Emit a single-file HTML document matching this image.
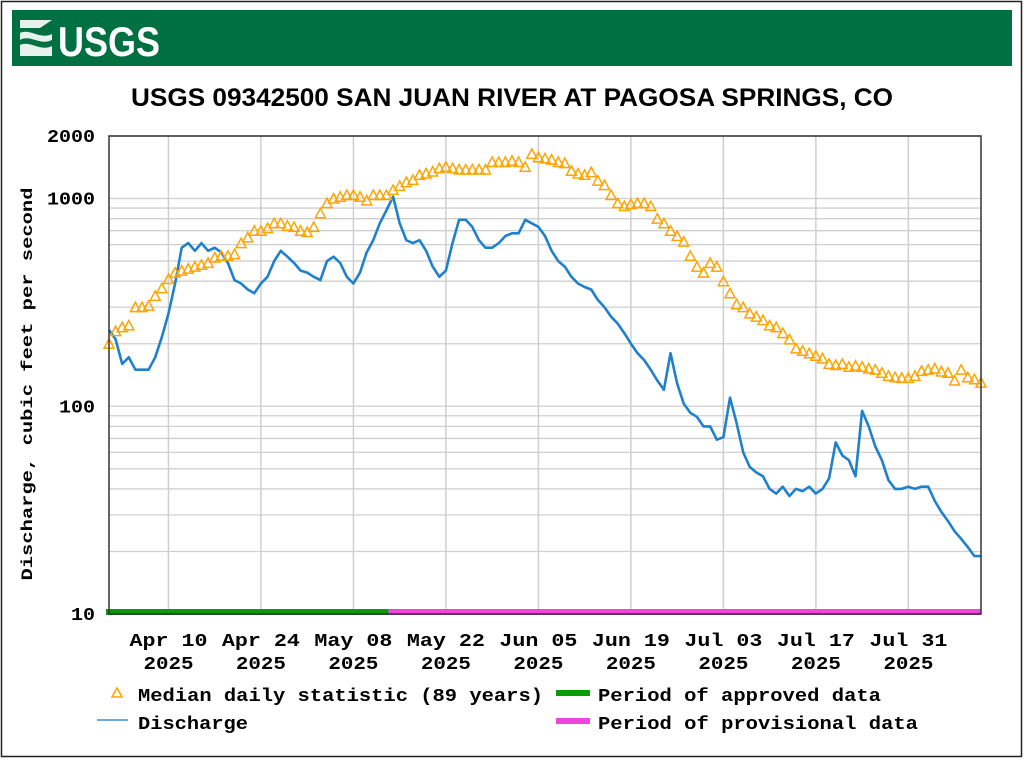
<!DOCTYPE html>
<html><head><meta charset="utf-8"><style>
body{margin:0;background:#fff;width:1024px;height:759px;overflow:hidden}
svg text{font-family:"Liberation Mono",monospace;font-weight:bold}
</style></head><body>
<svg id="chart" width="1024" height="759" xmlns="http://www.w3.org/2000/svg">
<rect x="1.5" y="1.5" width="1020" height="755" fill="#fff" stroke="#222" stroke-width="1.5"/>
<rect x="12" y="10" width="1000" height="56" fill="#006f41"/>
<g>
<path d="M20 20 H52 L40 28 H20 Z M20 33 C30 28 40 40 52 34 V40 C40 46 30 34 20 40 Z M20 45 C30 40 40 52 52 46 V56 H20 Z" fill="#fff" opacity="0.9"/>
<text x="58" y="56" fill="#fff" style="font-family:'Liberation Sans',sans-serif;font-weight:bold;font-size:42px" textLength="102" lengthAdjust="spacingAndGlyphs">USGS</text>
</g>
<text x="512" y="106" text-anchor="middle" style="font-family:'Liberation Sans',sans-serif;font-weight:bold;font-size:25px" textLength="762" lengthAdjust="spacingAndGlyphs">USGS 09342500 SAN JUAN RIVER AT PAGOSA SPRINGS, CO</text>
<text transform="translate(32,384) rotate(-90)" text-anchor="middle" font-size="16" textLength="393" lengthAdjust="spacingAndGlyphs">Discharge, cubic feet per second</text>
<g id="grid"></g>
<g id="series"></g>
<g id="axes"></g>
<g>
<path d="M112 697 L117 688 L122 697 Z" fill="none" stroke="#ffa500" stroke-width="1.6"/>
<text x="138" y="701" font-size="18" textLength="405" lengthAdjust="spacingAndGlyphs">Median daily statistic (89 years)</text>
<line x1="97" y1="720" x2="128" y2="720" stroke="#3a8fd6" stroke-width="1.5"/>
<text x="138" y="729" font-size="18" textLength="110" lengthAdjust="spacingAndGlyphs">Discharge</text>
<rect x="556" y="690" width="34" height="6" fill="#0a9b0a"/>
<text x="598" y="701" font-size="18" textLength="283" lengthAdjust="spacingAndGlyphs">Period of approved data</text>
<rect x="556" y="718" width="34" height="6" fill="#f044e0"/>
<text x="598" y="729" font-size="18" textLength="320" lengthAdjust="spacingAndGlyphs">Period of provisional data</text>
</g>
</svg>
<script>
const median=[200,230,240,245,300,300,305,340,370,410,440,450,460,470,480,490,520,530,530,540,610,650,700,700,720,760,760,740,730,700,690,730,850,950,1000,1020,1040,1040,1020,980,1040,1040,1040,1100,1150,1200,1230,1300,1320,1350,1400,1420,1400,1380,1380,1380,1380,1380,1500,1500,1500,1520,1500,1420,1640,1580,1560,1540,1500,1480,1360,1320,1300,1340,1220,1160,1040,950,920,940,950,950,920,800,760,700,660,620,530,470,440,490,470,400,350,310,300,280,270,260,245,240,225,210,190,185,180,175,170,160,158,160,155,157,155,152,150,145,140,138,137,137,140,148,150,152,147,145,133,150,138,135,130];
const discharge=[233,210,160,172,150,150,150,172,215,280,390,580,610,560,610,560,580,550,490,405,390,365,350,390,420,500,560,525,490,450,440,420,405,500,525,490,420,390,440,550,630,760,880,1020,760,630,610,630,560,470,420,450,610,790,790,730,630,580,580,610,660,680,680,790,760,730,660,560,500,470,420,390,375,365,325,300,270,250,225,200,180,167,150,133,120,180,129,103,93,89,80,80,69,71,110,83,60,51,48,46,40,38,41,37,40,39,41,38,40,45,67,58,55,46,95,80,64,55,44,40,40,41,40,41,41,35,31,28,25,23,21,19,19];
const yTicks=[10,100,1000,2000];
const xTickLabels=[["Apr 10","2025"],["Apr 24","2025"],["May 08","2025"],["May 22","2025"],["Jun 05","2025"],["Jun 19","2025"],["Jul 03","2025"],["Jul 17","2025"],["Jul 31","2025"]];
const xTickDays=[9,23,37,51,65,79,93,107,121];
const approvedEndDay=42.3;
const totalDays=132;

const L=109,R=981,T=136,B=614;
const X=d=>L+d*(R-L)/totalDays;
const Y=v=>B-(Math.log10(v)-1)/Math.log10(200)*(B-T);
const NS="http://www.w3.org/2000/svg";
function mk(tag,attrs,parent){const e=document.createElementNS(NS,tag);for(const k in attrs)e.setAttribute(k,attrs[k]);parent.appendChild(e);return e;}
const grid=document.getElementById('grid'),ser=document.getElementById('series'),ax=document.getElementById('axes');
mk('rect',{x:L,y:T,width:R-L,height:B-T,fill:'#fff'},grid);
for(let dec=10;dec<=1000;dec*=10){for(let m=1;m<=9;m++){const v=dec*m;if(v>2000||v===10)continue;
 const l=mk('line',{x1:L,x2:R,y1:Y(v),y2:Y(v),stroke:'#cfcfcf','stroke-width':1.3},grid);
 
 }}
{const l=mk('line',{x1:L,x2:R,y1:Y(2000),y2:Y(2000),stroke:'#cfcfcf','stroke-width':1.3},grid);}
xTickDays.forEach((d,i)=>{
 const l=mk('line',{x1:X(d),x2:X(d),y1:T,y2:B,stroke:'#cfcfcf','stroke-width':1.5},grid);
 
 
 const t1=mk('text',{x:X(d),y:646,'text-anchor':'middle','font-size':18,textLength:78,lengthAdjust:'spacingAndGlyphs'},ax);t1.textContent=xTickLabels[i][0];
 
 
 const t2=mk('text',{x:X(d),y:669,'text-anchor':'middle','font-size':18,textLength:50,lengthAdjust:'spacingAndGlyphs'},ax);t2.textContent=xTickLabels[i][1];
 
 
});
yTicks.forEach(v=>{const s=String(v);const t=mk('text',{x:95,y:Y(v)+6,'text-anchor':'end','font-size':18,textLength:s.length*12,lengthAdjust:'spacingAndGlyphs'},ax);t.textContent=s;
 
 });
const p=mk('polyline',{points:discharge.map((v,i)=>X(i).toFixed(1)+','+Y(v).toFixed(1)).join(' '),fill:'none',stroke:'#1f80cc','stroke-width':2.6,'stroke-linejoin':'round'},ser);


median.forEach((v,i)=>{const x=X(i),y=Y(v);
 const m=mk('path',{d:`M${x-5} ${y+4.5} L${x} ${y-5} L${x+5} ${y+4.5} Z`,fill:'none',stroke:'#ffa500','stroke-width':1.5},ser);
 
 });
const g=mk('rect',{x:L-3,y:B-5,width:X(approvedEndDay)-L+3,height:6,fill:'#0a9b0a'},ax);


const pm=mk('rect',{x:X(approvedEndDay),y:B-5,width:R-X(approvedEndDay),height:6,fill:'#f044e0'},ax);


const frame=mk('rect',{x:L,y:T,width:R-L,height:B-T,fill:'none',stroke:'#333','stroke-width':1.5},ax);


</script>
</body></html>
